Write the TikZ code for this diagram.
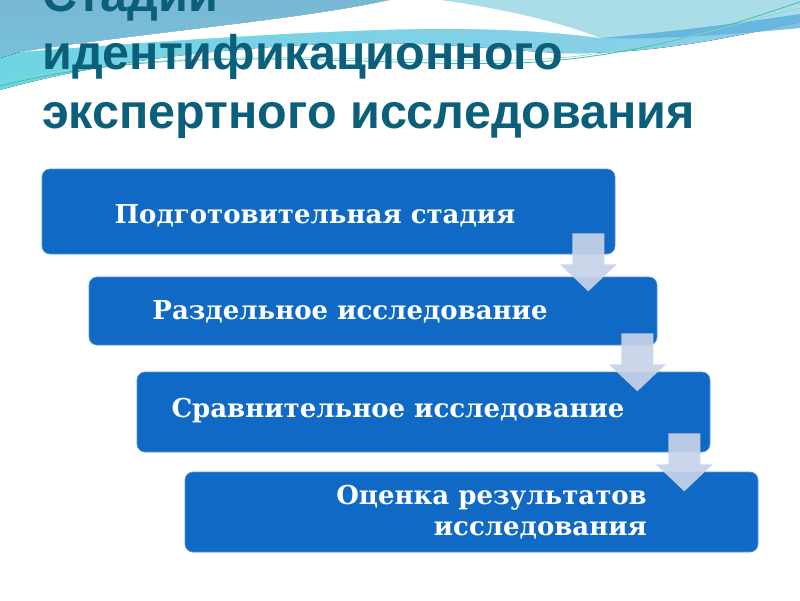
\documentclass[tikz,border=0pt]{standalone}
\usepackage{fontspec}
\setmainfont{DejaVu Serif}
\newfontfamily\titlefont{Liberation Sans}
\usetikzlibrary{calc}
\definecolor{titlecol}{HTML}{0B5F7A}
\definecolor{boxblue}{HTML}{1069C4}
\definecolor{arrowcol}{HTML}{C8D3EA}
\definecolor{wcyan}{HTML}{6ED5E3}
\definecolor{wpale}{HTML}{C9EEF3}
\definecolor{wblue}{HTML}{8FCDE9}
\definecolor{wtop}{HTML}{79B8D4}
\definecolor{wlight}{HTML}{AADDE8}
\definecolor{wdark}{HTML}{5EB2DE}
\definecolor{wline}{HTML}{3CC0B0}
\tikzset{
  stagebox/.style={rectangle, rounded corners=8pt, fill=boxblue, draw=boxblue!70!white, line width=0.6pt, inner sep=0pt},
  stagetext/.style={text=white, font=\fontsize{26}{31}\selectfont\bfseries, inner sep=0pt},
  titletext/.style={text=titlecol, font=\titlefont\fontsize{48.5}{58}\selectfont\bfseries, anchor=base west, inner sep=0pt},
  arrowshape/.style={fill=arrowcol, fill opacity=0.92},
}
\newcommand\blockarrow[1]{\fill[arrowshape] #1 ++(-16,0) -- ++(32,0) -- ++(0,31) -- ++(12.5,0) -- ++(-28.5,27) -- ++(-28.5,-27) -- ++(12.5,0) -- cycle;}
\begin{document}
\begin{tikzpicture}[x=1pt,y=-1pt]
\useasboundingbox (0,0) rectangle (800,600);
\fill[white] (0,0) rectangle (800,600);
% background waves
\fill[left color=wcyan, middle color=wpale, right color=wblue] (0,0) -- (800,0) -- (800,22) .. controls (730,38) and (650,55) .. (560,53) .. controls (500,50) and (420,40) .. (330,44) .. controls (220,48) and (100,62) .. (0,90) -- cycle;
\fill[top color=wtop, bottom color=wtop!70!wcyan] (0,0) -- (390,0) .. controls (300,20) and (150,32) .. (20,52) -- (0,58) -- cycle;
\fill[wlight] (440,0) -- (800,0) -- (800,14) .. controls (720,26) and (650,34) .. (600,38) .. controls (560,22) and (500,8) .. (440,0) -- cycle;
\fill[wdark, opacity=0.8] (800,14) .. controls (720,26) and (650,34) .. (600,38) .. controls (660,40) and (740,34) .. (800,28) -- cycle;
\fill[white] (20,52) .. controls (150,32) and (300,20) .. (390,0) -- (440,0) .. controls (500,8) and (560,22) .. (600,38) .. controls (550,31) and (480,28) .. (420,29) .. controls (300,31) and (150,42) .. (20,52) -- cycle;
\draw[wline, line width=0.8pt] (0,86) .. controls (200,35) and (420,75) .. (560,60) .. controls (660,50) and (730,25) .. (800,2);
\draw[wline!60!white, line width=0.7pt] (0,82) .. controls (210,38) and (430,70) .. (570,57) .. controls (670,46) and (740,22) .. (800,8);
% title
\node[titletext] (title1) at (42,11) {Стадии};
\node[titletext] (title2) at (42,69) {идентификационного};
\node[titletext] (title3) at (42,128) {экспертного исследования};
% boxes
\node[stagebox, minimum width=573pt, minimum height=85pt] (b1) at (328.5,211.5) {};
\node[stagebox, minimum width=568pt, minimum height=68pt] (b2) at (373,311) {};
\node[stagebox, minimum width=573pt, minimum height=80pt] (b3) at (423.5,412) {};
\node[stagebox, minimum width=573pt, minimum height=80pt] (b4) at (471.5,512) {};
\node[stagetext] (t1) at (315,216) {Подготовительная стадия};
\node[stagetext] (t2) at (350,312) {Раздельное исследование};
\node[stagetext] (t3) at (398,411) {Сравнительное исследование};
\node[stagetext, anchor=east, align=right] (t4) at (647,512) {Оценка результатов\\исследования};
% arrows
\coordinate (a1) at ($(b1.south east)+(-27,-21)$);
\coordinate (a2) at ($(b2.south east)+(-20,-12)$);
\coordinate (a3) at ($(b3.south east)+(-26,-19)$);
\blockarrow{(a1)}
\blockarrow{(a2)}
\blockarrow{(a3)}
\end{tikzpicture}
\end{document}
